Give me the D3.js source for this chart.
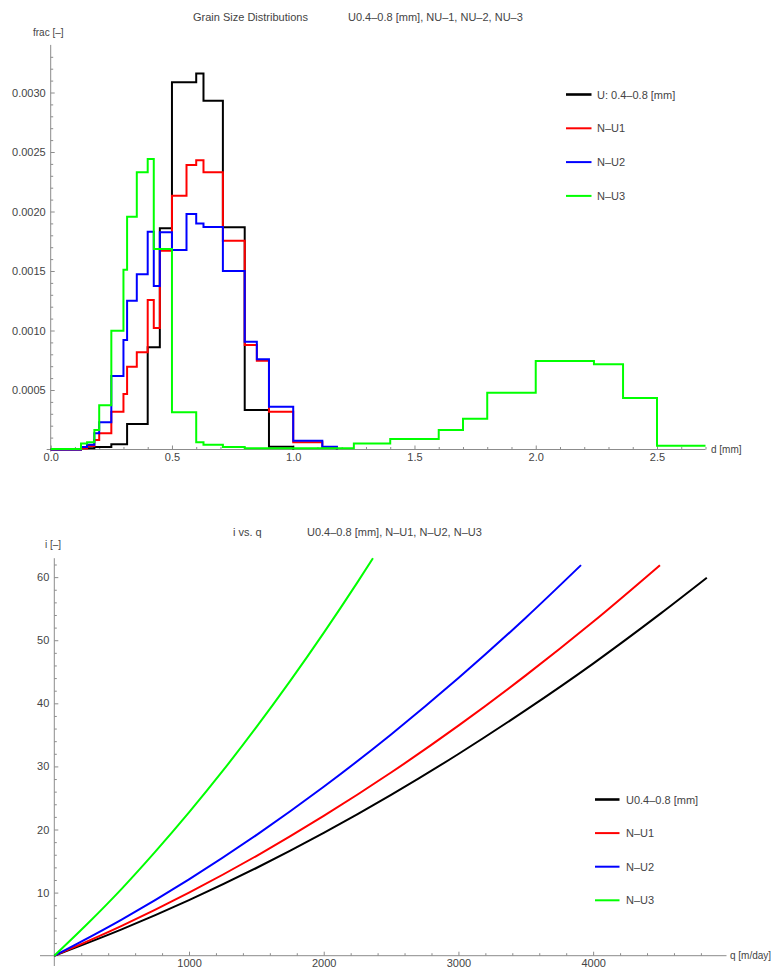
<!DOCTYPE html>
<html><head><meta charset="utf-8">
<script src="https://cdn.jsdelivr.net/npm/d3@7"></script>
<style>
body{margin:0;background:#fff;}
svg text{font-family:"Liberation Sans",Arial,sans-serif;}
</style></head>
<body><svg id="c" width="774" height="970"></svg>
<script>
// ---------- Data: grain size distributions (bin edges in mm) ----------
const binEdges = [0, 0.125, 0.15, 0.18, 0.2, 0.25, 0.3, 0.315, 0.355, 0.4, 0.425, 0.45, 0.5, 0.56, 0.6, 0.63, 0.71, 0.8, 0.85, 0.9, 1.0, 1.12, 1.18, 1.25, 1.4, 1.6, 1.7, 1.8, 2.0, 2.24, 2.36, 2.5, 2.8];
const fracU = [0, 0.00001, 0.00001, 0.00002, 0.00002, 0.000044, 0.000044, 0.000214, 0.000214, 0.00086, 0.00086, 0.00186, 0.003086, 0.003086, 0.00316, 0.00293, 0.001867, 0.000332, 0.000332, 0.000024, 0, 0, 0, 0, 0, 0, 0, 0, 0, 0, 0, 0];
const fracNU1 = [0, 0.00001, 0.00003, 0.00008, 0.000136, 0.000318, 0.000466, 0.000696, 0.000817, 0.001256, 0.00102, 0.00167, 0.002133, 0.00239, 0.00243, 0.00233, 0.001755, 0.000878, 0.000746, 0.000318, 0.00006, 0.00002, 0, 0, 0, 0, 0, 0, 0, 0, 0, 0];
const fracNU2 = [0, 0.00002, 0.00004, 0.000136, 0.000228, 0.000618, 0.00092, 0.00125, 0.001472, 0.00183, 0.001374, 0.001825, 0.001676, 0.001979, 0.0019, 0.00187, 0.0015, 0.000906, 0.000758, 0.00036, 0.000074, 0.000024, 0, 0, 0, 0, 0, 0, 0, 0, 0, 0];
const fracNU3 = [0.000005, 0.00005, 0.00006, 0.000164, 0.000371, 0.000998, 0.00151, 0.001956, 0.00233, 0.002441, 0.001685, 0.001685, 0.000313, 0.000313, 0.00006, 0.00004, 0.00002, 0.00001, 0.00001, 0.00001, 0.00001, 0.00001, 0.00001, 0.00005, 0.000088, 0.000164, 0.000259, 0.000477, 0.000744, 0.000716, 0.000433, 0.000032];
const gsdNames = ["U: 0.4\u20130.8 [mm]", "N\u2013U1", "N\u2013U2", "N\u2013U3"];
const gsdXTicks = [0, 0.5, 1.0, 1.5, 2.0, 2.5];
const gsdYTicks = [0.0005, 0.0010, 0.0015, 0.0020, 0.0025, 0.0030];

// ---------- Data: i vs q ----------
const qU = [0, 500, 1000, 1500, 2000, 2500, 3000, 3500, 4000, 4500, 4844];
const iU = [0, 4.17, 8.81, 13.9, 19.46, 25.49, 31.97, 38.92, 46.3, 54.21, 59.9];
const qNU1 = [0, 500, 1000, 1500, 2000, 2500, 3000, 3500, 4000, 4496];
const iNU1 = [0, 4.73, 10.0, 15.8, 22.15, 29.03, 36.46, 44.43, 52.93, 61.9];
const qNU2 = [0, 500, 1000, 1500, 2000, 2500, 3000, 3500, 3910];
const iNU2 = [0, 5.73, 12.11, 19.12, 26.77, 35.07, 44.0, 53.57, 61.9];
const qNU3 = [0, 250, 500, 750, 1000, 1250, 1500, 1750, 2000, 2250, 2366];
const iNU3 = [0, 5.14, 10.6, 16.49, 22.71, 29.28, 36.22, 43.51, 51.16, 59.17, 63];
const iqNames = ["U0.4\u20130.8 [mm]", "N\u2013U1", "N\u2013U2", "N\u2013U3"];
const iqXTicks = [1000, 2000, 3000, 4000];
const iqYTicks = [10, 20, 30, 40, 50, 60];

const colors = ["#000000", "#ff0000", "#0000ff", "#00ff00"];
const axisColor = "#8c8c8c";
const textColor = "#444";

const svg = d3.select("#c");

function styleAxis(g){
  g.select(".domain").remove();
  g.selectAll("line").attr("stroke", axisColor);
  g.selectAll("text").attr("fill", textColor).style("font-size","11px");
}

// ================= TOP CHART =================
(function(){
  const x = d3.scaleLinear().domain([0, 2.7]).range([50.7, 705.5]);
  const y = d3.scaleLinear().domain([0, 0.0034]).range([449.5, 44.9]);
  const g = svg.append("g");

  svg.append("defs").append("clipPath").attr("id","clipTop")
    .append("rect").attr("x", x(0)-2).attr("y", y(0.0034)-2)
    .attr("width", x(2.7)-x(0)+2).attr("height", y(0)-y(0.0034)+4);

  g.append("line").attr("x1", x(0)-4).attr("x2", x(2.7)).attr("y1", y(0)).attr("y2", y(0)).attr("stroke", axisColor);
  g.append("line").attr("x1", x(0)).attr("x2", x(0)).attr("y1", y(0)+2).attr("y2", y(0.0034)).attr("stroke", axisColor);

  const xMinor = d3.range(1, 28).map(i => i/10).filter(v => Math.abs(v*2 - Math.round(v*2)) > 1e-6);
  g.append("g").attr("transform", `translate(0,${y(0)})`)
    .call(d3.axisBottom(x).tickValues(xMinor).tickSize(-2.5).tickFormat("")).call(styleAxis);
  const yMinor = d3.range(1, 34).map(i => i/10000).filter(v => Math.abs(v/0.0005 - Math.round(v/0.0005)) > 1e-6);
  g.append("g").attr("transform", `translate(${x(0)},0)`)
    .call(d3.axisLeft(y).tickValues(yMinor).tickSize(-2.5).tickFormat("")).call(styleAxis);

  g.append("g").attr("transform", `translate(0,${y(0)})`)
    .call(d3.axisBottom(x).tickValues(gsdXTicks).tickSize(-4).tickPadding(4).tickFormat(d => d3.format(".1f")(d))).call(styleAxis);
  g.append("g").attr("transform", `translate(${x(0)},0)`)
    .call(d3.axisLeft(y).tickValues(gsdYTicks).tickSize(-4).tickPadding(5).tickFormat(d3.format(".4f"))).call(styleAxis);

  const series = [fracU, fracNU1, fracNU2, fracNU3];
  const line = d3.line().x(d => x(d[0])).y(d => y(d[1])).curve(d3.curveStepAfter);
  series.forEach((vals, k) => {
    let last = vals.length - 1;
    while (last > 0 && vals[last] === 0) last--;
    const pts = [];
    for (let i = 0; i <= last; i++) pts.push([binEdges[i], vals[i]]);
    if (last === vals.length - 1) pts.push([binEdges[last+1], vals[last]]);
    else pts.push([binEdges[last+1], 0]);
    g.append("path").attr("d", line(pts)).attr("fill","none")
      .attr("stroke", colors[k]).attr("stroke-width", 2).attr("stroke-linejoin","miter")
      .attr("clip-path","url(#clipTop)");
  });

  const lg = g.append("g");
  gsdNames.forEach((n, k) => {
    const yy = 94.5 + k*33.8;
    lg.append("line").attr("x1", 566).attr("x2", 591.5).attr("y1", yy).attr("y2", yy)
      .attr("stroke", colors[k]).attr("stroke-width", k === 0 ? 2.6 : 2);
    lg.append("text").attr("x", 597).attr("y", yy+4).text(n)
      .attr("fill", textColor).style("font-size","11px");
  });

  g.append("text").attr("x", 193).attr("y", 21).text("Grain Size Distributions").attr("fill", textColor).style("font-size","11px");
  g.append("text").attr("x", 348).attr("y", 21).text("U0.4\u20130.8 [mm], NU\u20131, NU\u20132, NU\u20133").attr("fill", textColor).style("font-size","11px");
  g.append("text").attr("x", 33).attr("y", 36).text("frac [\u2013]").attr("fill", textColor).style("font-size","10px");
  g.append("text").attr("x", 711).attr("y", 453).text("d [mm]").attr("fill", textColor).style("font-size","10px");
})();

// ================= BOTTOM CHART =================
(function(){
  const x = d3.scaleLinear().domain([0, 4990]).range([54.3, 726.5]);
  const y = d3.scaleLinear().domain([0, 63]).range([955.7, 558.2]);
  const g = svg.append("g");

  svg.select("defs").append("clipPath").attr("id","clipBot")
    .append("rect").attr("x", x(0)-2).attr("y", y(63)-2)
    .attr("width", x(4990)-x(0)+2).attr("height", y(0)-y(63)+4);

  g.append("line").attr("x1", 40).attr("x2", x(4990)).attr("y1", y(0)).attr("y2", y(0)).attr("stroke", axisColor);
  g.append("line").attr("x1", x(0)).attr("x2", x(0)).attr("y1", 966).attr("y2", y(63)).attr("stroke", axisColor);

  const xMinor = d3.range(200, 4990, 200).filter(v => v % 1000 !== 0);
  g.append("g").attr("transform", `translate(0,${y(0)})`)
    .call(d3.axisBottom(x).tickValues(xMinor).tickSize(-2.5).tickFormat("")).call(styleAxis);
  const yMinor = d3.range(2, 63, 2).filter(v => v % 10 !== 0);
  g.append("g").attr("transform", `translate(${x(0)},0)`)
    .call(d3.axisLeft(y).tickValues(yMinor).tickSize(-2.5).tickFormat("")).call(styleAxis);

  g.append("g").attr("transform", `translate(0,${y(0)})`)
    .call(d3.axisBottom(x).tickValues(iqXTicks).tickSize(-4).tickPadding(4).tickFormat(d3.format("d"))).call(styleAxis);
  g.append("g").attr("transform", `translate(${x(0)},0)`)
    .call(d3.axisLeft(y).tickValues(iqYTicks).tickSize(-4).tickPadding(5).tickFormat(d3.format("d"))).call(styleAxis);

  const qs = [qU, qNU1, qNU2, qNU3];
  const is = [iU, iNU1, iNU2, iNU3];
  const line = d3.line().x(d => x(d[0])).y(d => y(d[1])).curve(d3.curveMonotoneX);
  qs.forEach((q, k) => {
    const pts = q.map((v, i) => [v, is[k][i]]);
    g.append("path").attr("d", line(pts)).attr("fill","none")
      .attr("stroke", colors[k]).attr("stroke-width", 2).attr("clip-path","url(#clipBot)");
  });

  const lg = g.append("g");
  iqNames.forEach((n, k) => {
    const yy = 799.5 + k*33.6;
    lg.append("line").attr("x1", 595).attr("x2", 619.5).attr("y1", yy).attr("y2", yy)
      .attr("stroke", colors[k]).attr("stroke-width", k === 0 ? 2.6 : 2);
    lg.append("text").attr("x", 626).attr("y", yy+4).text(n)
      .attr("fill", textColor).style("font-size","11px");
  });

  g.append("text").attr("x", 233).attr("y", 535.5).text("i vs. q").attr("fill", textColor).style("font-size","11px");
  g.append("text").attr("x", 307).attr("y", 535.5).text("U0.4\u20130.8 [mm], N\u2013U1, N\u2013U2, N\u2013U3").attr("fill", textColor).style("font-size","11px");
  g.append("text").attr("x", 45).attr("y", 548).text("i [\u2013]").attr("fill", textColor).style("font-size","10px");
  g.append("text").attr("x", 730).attr("y", 959).text("q [m/day]").attr("fill", textColor).style("font-size","10px");
})();
</script>
</body></html>
